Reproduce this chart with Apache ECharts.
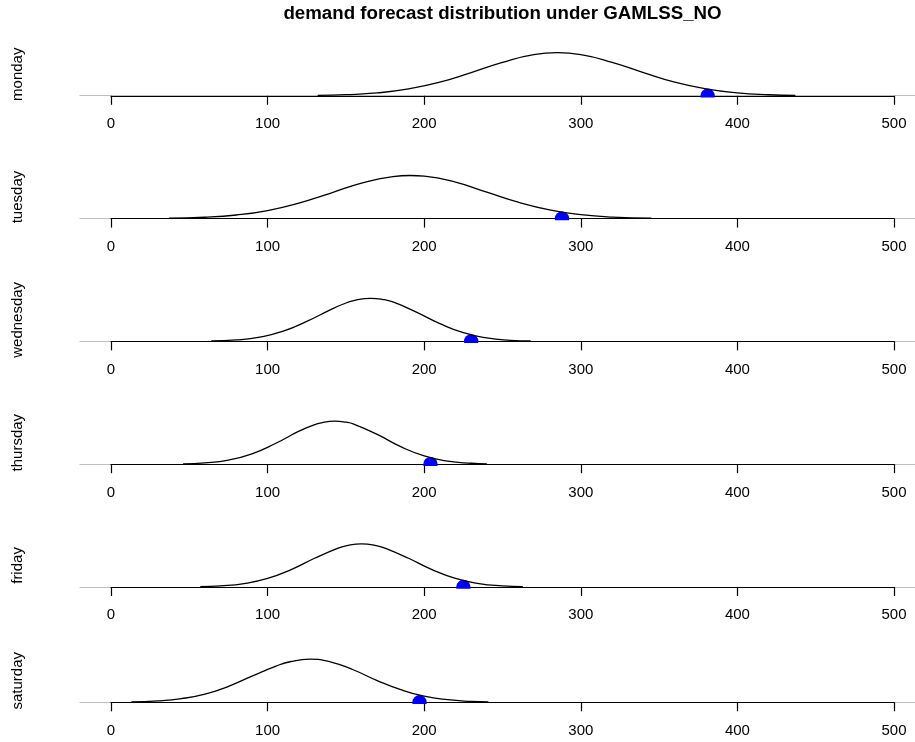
<!DOCTYPE html>
<html><head><meta charset="utf-8">
<script src="https://cdn.jsdelivr.net/npm/echarts@6/dist/echarts.min.js"></script>
<style>html,body{margin:0;padding:0;background:#fff}#c{width:915px;height:742px}</style>
</head><body><div id="c"></div>
<script>
const titleText = 'demand forecast distribution under GAMLSS_NO';
const dayNames = ['monday', 'tuesday', 'wednesday', 'thursday', 'friday', 'saturday'];
const xTicks = [0, 100, 200, 300, 400, 500];

// density values (units of 1e-3)
const mondayDemand = [132, 150, 170, 190, 210, 230, 250, 270, 285, 300, 320, 340, 360, 380, 400, 420, 437];
const mondayDensity = [0.07, 0.21, 0.54, 1.28, 2.55, 4.36, 6.28, 7.72, 8.08, 7.72, 6.28, 4.36, 2.55, 1.28, 0.54, 0.19, 0.07];
const tuesdayDemand = [37, 60, 80, 100, 120, 140, 160, 180, 191, 200, 220, 240, 260, 280, 300, 320, 345];
const tuesdayDensity = [0.07, 0.25, 0.67, 1.50, 2.89, 4.72, 6.62, 7.84, 8.03, 7.90, 6.79, 4.92, 3.06, 1.62, 0.73, 0.27, 0.07];
const wednesdayDemand = [64, 80, 95, 110, 125, 140, 148, 155, 166, 173, 180, 195, 210, 225, 240, 255, 268];
const wednesdayDensity = [0.10, 0.40, 1.20, 2.85, 5.60, 8.85, 10.42, 11.45, 12.09, 11.82, 11.07, 8.21, 4.99, 2.44, 0.98, 0.31, 0.10];
const thursdayDemand = [46, 60, 75, 90, 105, 120, 128, 135, 143, 150, 155, 170, 185, 200, 215, 230, 240];
const thursdayDensity = [0.10, 0.38, 1.21, 3.06, 6.13, 9.77, 11.37, 12.33, 12.75, 12.43, 11.86, 8.81, 5.19, 2.44, 0.91, 0.27, 0.10];
const fridayDemand = [57, 70, 85, 100, 115, 130, 145, 150, 160, 170, 175, 190, 205, 220, 235, 250, 263];
const fridayDensity = [0.10, 0.32, 0.95, 2.36, 4.80, 7.96, 10.79, 11.41, 11.94, 11.41, 10.79, 7.96, 4.80, 2.36, 0.95, 0.32, 0.10];
const saturdayDemand = [13, 30, 45, 60, 75, 90, 105, 115, 127, 140, 155, 170, 185, 200, 215, 230, 241];
const saturdayDensity = [0.09, 0.34, 0.92, 2.06, 4.00, 6.56, 9.03, 10.24, 10.81, 10.17, 8.10, 5.45, 3.16, 1.52, 0.64, 0.22, 0.09];

const observedDemand = [381, 288, 230, 204, 225, 197];

const demandSets = [mondayDemand, tuesdayDemand, wednesdayDemand, thursdayDemand, fridayDemand, saturdayDemand];
const densitySets = [mondayDensity, tuesdayDensity, wednesdayDensity, thursdayDensity, fridayDensity, saturdayDensity];

const axisBottoms = [97.5, 220.3, 343.1, 465.9, 588.7, 704];
const plotH = 46.5;
const FONT = '"Liberation Sans", Arial, Helvetica, sans-serif';

const grids = [], xAxes = [], yAxes = [], series = [];
dayNames.forEach((day, i) => {
  const b = axisBottoms[i];
  grids.push({ left: 80, width: 845, top: b - 1.8 - 10, height: 10 });
  xAxes.push({ gridIndex: 2 * i, type: 'value', min: -20, max: 520,
    axisLine: { show: true, lineStyle: { color: '#BEBEBE', width: 1.2 } },
    axisTick: { show: false }, axisLabel: { show: false }, splitLine: { show: false } });
  yAxes.push({ gridIndex: 2 * i, type: 'value', min: 0, max: 1, show: false });

  grids.push({ left: 111, width: 783, top: b - plotH, height: plotH });
  xAxes.push({ gridIndex: 2 * i + 1, type: 'value', min: xTicks[0], max: xTicks[xTicks.length - 1], interval: 100,
    axisLine: { show: true, lineStyle: { color: '#000', width: 1.2 } },
    axisTick: { show: true, length: 9, lineStyle: { color: '#000', width: 1.2 } },
    axisLabel: { color: '#000', fontSize: 15, fontFamily: FONT, margin: 19 },
    splitLine: { show: false } });
  yAxes.push({ gridIndex: 2 * i + 1, type: 'value',
    min: v => -0.04 * v.max, max: v => 1.04 * v.max,
    axisLine: { show: false }, axisTick: { show: false }, axisLabel: { show: false }, splitLine: { show: false },
    name: day, nameLocation: 'middle', nameRotate: 90, nameGap: 86,
    nameTextStyle: { color: '#000', fontSize: 15, fontFamily: FONT } });

  series.push({ type: 'line', xAxisIndex: 2 * i + 1, yAxisIndex: 2 * i + 1,
    data: demandSets[i].map((x, k) => [x, densitySets[i][k]]),
    smooth: 0.5, showSymbol: false, silent: true,
    lineStyle: { color: '#000', width: 1.3 } });
  series.push({ type: 'custom', xAxisIndex: 2 * i + 1, yAxisIndex: 2 * i + 1, clip: true, silent: true,
    data: [[observedDemand[i], 0]],
    renderItem: (params, api) => {
      const p = api.coord([api.value(0), api.value(1)]);
      return { type: 'circle', shape: { cx: p[0], cy: p[1], r: 7.2 }, style: { fill: '#0000FF' } };
    } });
});

const chart = echarts.init(document.getElementById('c'), null, { renderer: 'canvas' });
chart.setOption({
  animation: false,
  backgroundColor: '#fff',
  grid: grids, xAxis: xAxes, yAxis: yAxes, series: series,
  graphic: [{ type: 'text', x: 502.5, y: 14,
    style: { text: titleText, textAlign: 'center', textVerticalAlign: 'middle',
      font: 'bold 18.7px ' + FONT, fill: '#000' } }]
});
</script></body></html>
